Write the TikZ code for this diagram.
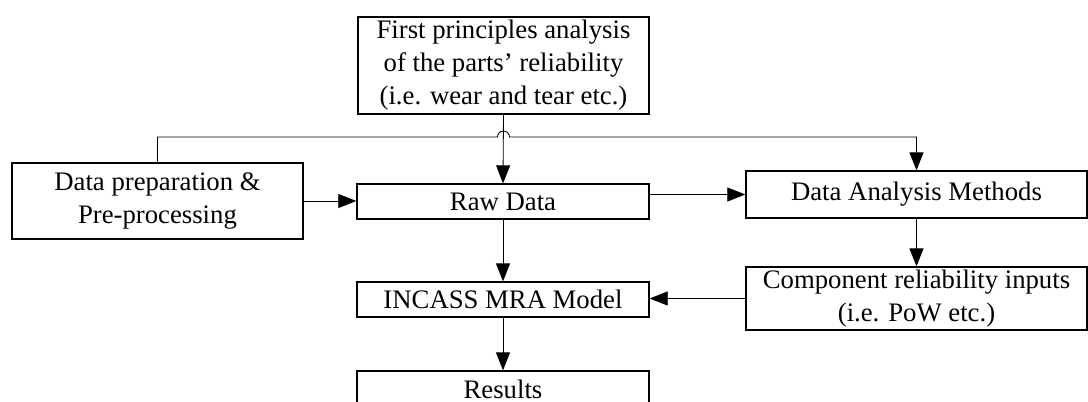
\documentclass[tikz,border=0pt]{standalone}
\usepackage{fontspec}
\setmainfont{Liberation Serif}
\usepackage{tikz}
\usetikzlibrary{arrows,arrows.meta,shapes,positioning}

\tikzset{
	block/.style={draw, line width=0.9pt, align=center, inner sep=0pt,
		font=\fontsize{19}{23.5}\selectfont},
	conn/.style={line width=0.6pt, -{Triangle[length=0.45cm,width=0.35cm]}}
}

\begin{document}
\begin{tikzpicture}[x=0.025cm,y=-0.025cm]
			\clip (0,0) rectangle (1088,402);
			% blocks
		  	\node[block, minimum width=7.275cm, minimum height=2.425cm] (first) at (503.5,65.5) {First principles analysis\\of the parts' reliability\\(i.e. wear and tear etc.)};
		  	\node[block, minimum width=7.275cm, minimum height=1.9cm] (prep) at (157.5,201) {Data preparation \&\\Pre-processing};
		  	\node[block, minimum width=7.3cm, minimum height=0.875cm] (raw) at (503,201.5) {Raw Data};
		  	\node[block, minimum width=8.525cm, minimum height=1.175cm] (dam) at (916.5,194.5) {Data Analysis Methods};
		  	\node[block, minimum width=8.525cm, minimum height=1.575cm] (comp) at (916.5,298.5) {Component reliability inputs\\(i.e. PoW etc.)};
		  	\node[block, minimum width=7.3cm, minimum height=0.875cm] (mra) at (503,299.5) {INCASS MRA Model};
		  	\node[block, minimum width=7.3cm, minimum height=0.9cm] (res) at (503,389) {Results};

		  	% connectors
		  	\coordinate (hop) at (first.south |- 0,137);
		  	\draw[conn] (prep.north) |- ([xshift=-0.15cm]hop) arc[start angle=180, end angle=0, radius=0.15cm] -| (dam.north);
		  	\draw[conn] (first.south) -- (raw.north);
		  	\draw[conn] (prep.east) -- (prep.east -| raw.west);
		  	\draw[conn] (dam.west -| raw.east) -- (dam.west);
		  	\draw[conn] (dam.south) -- (comp.north);
		  	\draw[conn] (raw.south) -- (mra.north);
		  	\draw[conn] (comp.west) -- (comp.west -| mra.east);
		  	\draw[conn] (mra.south) -- (res.north);
\end{tikzpicture}
\end{document}
